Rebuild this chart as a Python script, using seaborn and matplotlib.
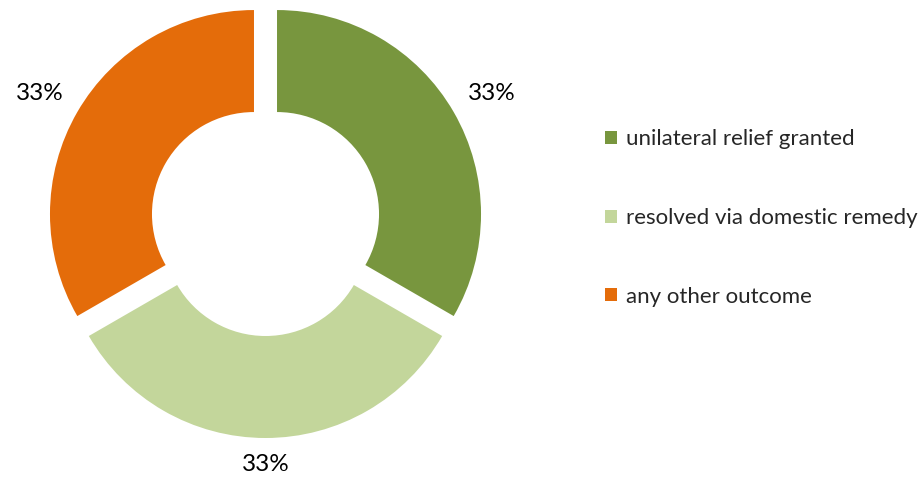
import matplotlib
matplotlib.use("Agg")
import matplotlib.pyplot as plt
import seaborn as sns
import numpy as np

sns.set_style("white")
plt.rcParams['font.family'] = ['Lato', 'DejaVu Sans']

# chart data
categories = ['unilateral relief granted', 'resolved via domestic remedy', 'any other outcome']
shares = [1, 1, 1]
colors = ['#78963E', '#C3D69B', '#E46C0A']

W, H = 919, 479
fig = plt.figure(figsize=(W / 100, H / 100), dpi=100)
ax = fig.add_axes([0, 0, 1, 1])

R = 204
center = (265.5, H - 220.7)
# explode is in data units (pixels here)
wedges, texts, autotexts = ax.pie(
    shares, colors=colors, startangle=90, counterclock=False,
    radius=R, center=center, explode=[13.3] * 3,
    autopct=lambda p: f'{p:.0f}%', pctdistance=1.2,
    wedgeprops=dict(width=0.5 * R, linewidth=0),
    textprops=dict(fontsize=17.5, color='#000000'))

# put the percentage labels just outside the outer edge, like Excel's "outside end"
gap = 16
for w, t in zip(wedges, autotexts):
    th = np.deg2rad(0.5 * (w.theta1 + w.theta2))
    cx, cy = w.center
    c, s = np.cos(th), np.sin(th)
    t.set_position((cx + (w.r + gap) * c, cy + (w.r + gap) * s))
    t.set_ha('left' if c > 0.1 else 'right' if c < -0.1 else 'center')
    t.set_va('bottom' if s > 0.1 else 'top' if s < -0.1 else 'center')

ax.set_xlim(0, W)
ax.set_ylim(0, H)
ax.set_aspect('equal')
ax.axis('off')

fig.legend(wedges, categories, loc='center left',
           bbox_to_anchor=(605 / W, 1 - 218 / H),
           frameon=False, fontsize=16, borderpad=0, borderaxespad=0,
           handlelength=0.54, handleheight=0.54, handletextpad=0.4,
           labelspacing=2.64)

fig.savefig('out.png', dpi=100)
